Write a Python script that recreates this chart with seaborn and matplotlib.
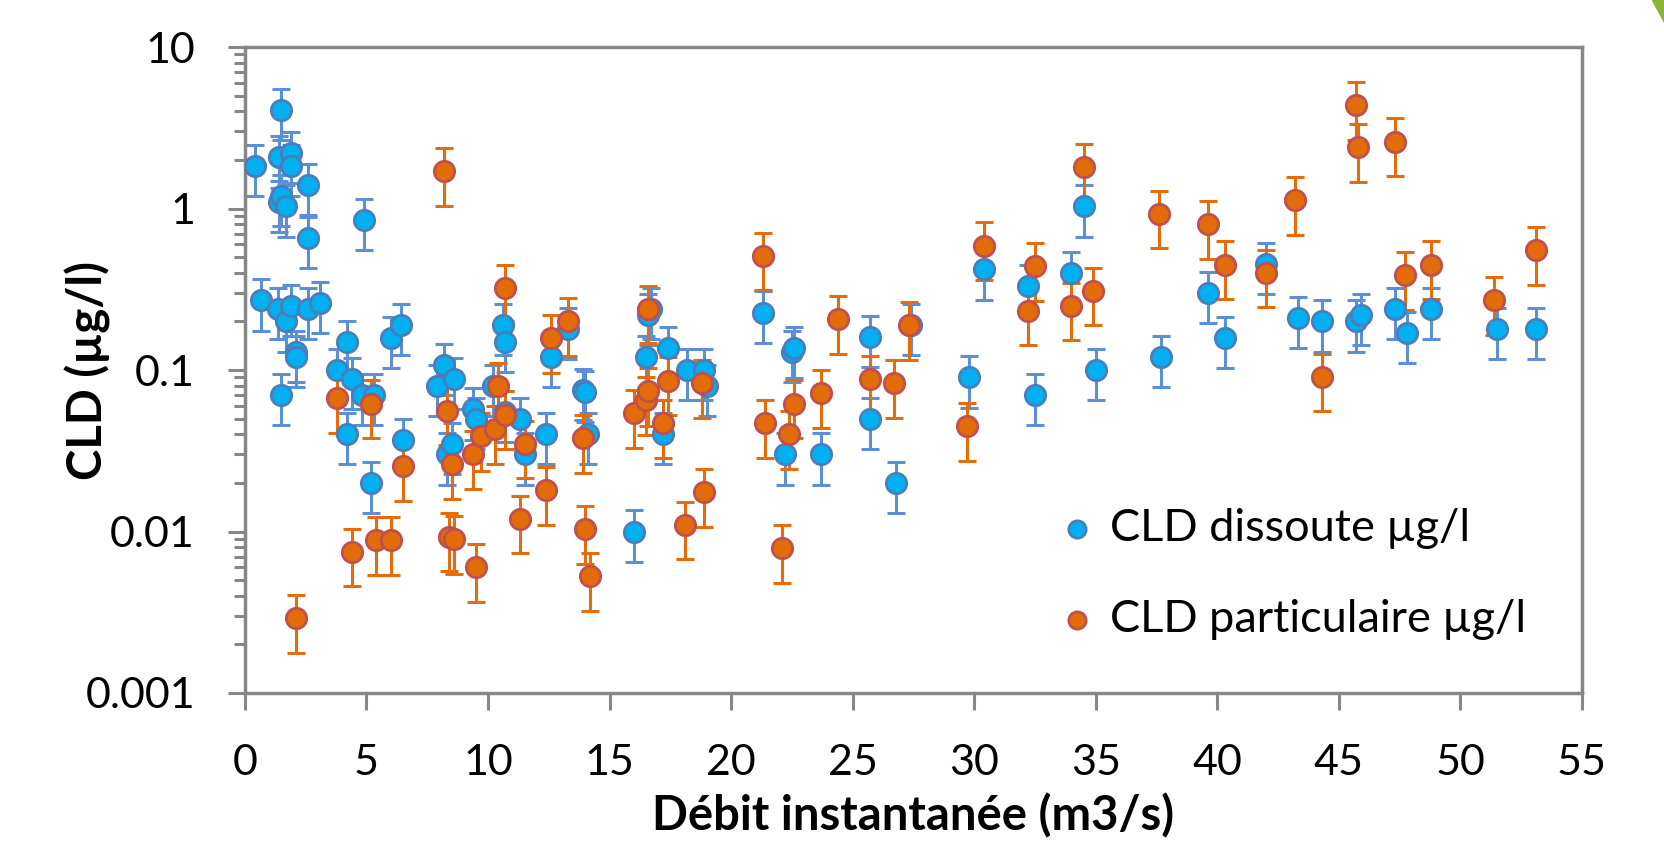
import numpy as np
import pandas as pd
import matplotlib
matplotlib.use("Agg")
import matplotlib.pyplot as plt
import seaborn as sns
from matplotlib.ticker import LogLocator, NullFormatter, FixedLocator, FuncFormatter
from matplotlib.patches import Polygon

# ---------------- data ----------------
diss_x = [0.4, 0.65, 1.5, 1.4, 1.9, 1.9, 1.4, 1.5, 1.7, 2.6, 2.6, 1.35, 1.7, 1.9, 1.5,
          2.1, 2.1, 2.6, 3.1, 3.8, 4.2, 4.4, 4.2, 4.8, 4.9, 5.3, 5.2, 6.0, 6.4, 6.5,
          7.9, 8.2, 8.6, 8.3, 8.5, 9.4, 9.5, 10.2, 10.6, 10.7, 10.7, 11.3, 11.5, 12.4,
          12.6, 13.3, 13.9, 14.0, 14.1, 16.0, 16.5, 16.6, 16.7, 17.2, 17.4, 18.2, 18.9,
          19.0, 21.3, 22.2, 22.5, 22.6, 23.7, 25.7, 25.7, 26.8, 27.4, 29.8, 30.4, 32.2,
          32.5, 34.0, 34.5, 35.0, 37.7, 39.6, 40.3, 42.0, 43.3, 44.3, 45.7, 45.9, 47.3,
          47.8, 48.8, 51.5, 53.1]
diss_y = [1.83, 0.27, 4.1, 2.07, 2.2, 1.83, 1.1, 1.2, 1.03, 1.4, 0.66, 0.24, 0.2, 0.25, 0.07,
          0.13, 0.12, 0.24, 0.26, 0.1, 0.15, 0.088, 0.04, 0.07, 0.85, 0.07, 0.02, 0.158, 0.19, 0.037,
          0.08, 0.107, 0.088, 0.03, 0.035, 0.057, 0.05, 0.08, 0.19, 0.15, 0.055, 0.05, 0.03, 0.04,
          0.12, 0.18, 0.075, 0.073, 0.04, 0.01, 0.12, 0.22, 0.24, 0.04, 0.137, 0.1, 0.1,
          0.08, 0.227, 0.03, 0.13, 0.137, 0.03, 0.16, 0.05, 0.02, 0.19, 0.09, 0.42, 0.33,
          0.07, 0.40, 1.03, 0.1, 0.12, 0.30, 0.158, 0.455, 0.21, 0.2, 0.2, 0.22, 0.24,
          0.17, 0.24, 0.18, 0.18]

part_x = [2.1, 3.8, 4.4, 5.2, 5.4, 6.0, 6.5, 8.2, 8.3, 8.4, 8.6, 8.5, 9.4, 9.5, 9.7,
          10.3, 10.4, 10.7, 10.7, 11.3, 11.5, 12.4, 12.6, 13.3, 13.9, 14.0, 14.2, 16.0,
          16.5, 16.6, 16.6, 17.2, 17.4, 18.1, 18.8, 18.9, 21.3, 21.4, 22.1, 22.4, 22.6,
          23.7, 24.4, 25.7, 26.7, 27.3, 29.7, 30.4, 32.2, 32.5, 34.0, 34.5, 34.9, 37.6,
          39.6, 40.3, 42.0, 43.2, 44.3, 45.7, 45.8, 47.3, 47.7, 48.8, 51.4, 53.1]
part_y = [0.0029, 0.067, 0.0075, 0.062, 0.0088, 0.0088, 0.0255, 1.7, 0.056, 0.0093, 0.009, 0.026, 0.03, 0.006, 0.039,
          0.043, 0.08, 0.32, 0.053, 0.012, 0.035, 0.018, 0.158, 0.2, 0.038, 0.0103, 0.0053, 0.054,
          0.065, 0.24, 0.074, 0.047, 0.086, 0.011, 0.083, 0.0175, 0.51, 0.047, 0.0079, 0.04, 0.062,
          0.072, 0.207, 0.088, 0.083, 0.19, 0.045, 0.59, 0.233, 0.44, 0.25, 1.8, 0.31, 0.93,
          0.8, 0.45, 0.4, 1.13, 0.091, 4.35, 2.4, 2.6, 0.385, 0.45, 0.27, 0.55]

diss_err_frac = 0.35
part_err_frac = 0.39

label_diss = "CLD dissoute µg/l"
label_part = "CLD particulaire µg/l"
x_ticks = [0, 5, 10, 15, 20, 25, 30, 35, 40, 45, 50, 55]
y_ticks = [0.001, 0.01, 0.1, 1, 10]
y_tick_labels = ["0.001", "0.01", "0.1", "1", "10"]

df = pd.concat([
    pd.DataFrame({"x": diss_x, "y": diss_y, "serie": label_diss}),
    pd.DataFrame({"x": part_x, "y": part_y, "serie": label_part}),
], ignore_index=True)

# ---------------- style ----------------
sns.set_theme(style="white")
plt.rcParams["font.family"] = ["Lato", "DejaVu Sans"]

blue_fill, blue_edge, blue_err = "#00B0F0", "#4A7EBB", "#5B8FD6"
org_fill, org_edge, org_err = "#E36C0A", "#C0504D", "#E46C0A"

fig = plt.figure(figsize=(16.64, 8.63), dpi=100)
ax = fig.add_axes([0.1472, 0.197, 0.8035, 0.7485])

# error bars
ax.errorbar(diss_x, diss_y, yerr=np.array(diss_y) * diss_err_frac, fmt="none",
            ecolor=blue_err, elinewidth=2.2, capsize=6.5, capthick=2.2, zorder=2)
ax.errorbar(part_x, part_y, yerr=np.array(part_y) * part_err_frac, fmt="none",
            ecolor=org_err, elinewidth=2.2, capsize=6.5, capthick=2.2, zorder=2)

# markers
for lab, fc, ec in [(label_diss, blue_fill, blue_edge), (label_part, org_fill, org_edge)]:
    sns.scatterplot(data=df[df["serie"] == lab], x="x", y="y", ax=ax, s=215,
                    color=fc, edgecolor=ec, linewidth=2.0, label=lab, zorder=3)

ax.set_yscale("log")
ax.set_xlim(0, 55)
ax.set_ylim(0.001, 10)
ax.xaxis.set_major_locator(FixedLocator(x_ticks))
ax.yaxis.set_major_locator(FixedLocator(y_ticks))
ax.yaxis.set_major_formatter(FuncFormatter(lambda v, p: y_tick_labels[y_ticks.index(v)] if v in y_ticks else ""))
ax.yaxis.set_minor_locator(LogLocator(base=10, subs=np.arange(2, 10)))
ax.yaxis.set_minor_formatter(NullFormatter())

spine_c = "#878787"
for s in ax.spines.values():
    s.set_color(spine_c)
    s.set_linewidth(2.5)

ax.tick_params(axis="both", which="major", direction="out", length=12, width=2.2,
               color=spine_c, labelsize=31, labelcolor="black", bottom=True, left=True)
ax.tick_params(axis="y", which="major", pad=24)
ax.tick_params(axis="x", which="major", pad=25)
ax.tick_params(axis="y", which="minor", direction="out", length=8, width=2.2, color=spine_c, left=True)
ax.tick_params(axis="x", which="minor", bottom=False)

ax.set_xlabel("Débit instantanée (m3/s)", fontsize=34, fontweight="bold", color="black")
ax.set_ylabel("CLD (µg/l)", fontsize=34, fontweight="bold", color="black")
ax.xaxis.set_label_coords(0.5, -0.155)
ax.yaxis.set_label_coords(-0.100, 0.5)

leg = ax.legend(loc="upper left", bbox_to_anchor=(0.595, 0.315), frameon=False,
                fontsize=32.5, labelspacing=1.12, handletextpad=0.35, handlelength=0.8,
                markerscale=0.85, borderaxespad=0)
for t in leg.get_texts():
    t.set_color("black")

# decorative corner triangle
fig.patches.append(Polygon([[0.993, 1.0], [1.0, 1.0], [1.0, 0.975]], closed=True,
                           transform=fig.transFigure, color="#8DB43A", zorder=10))

fig.savefig("out.png", dpi=100)
